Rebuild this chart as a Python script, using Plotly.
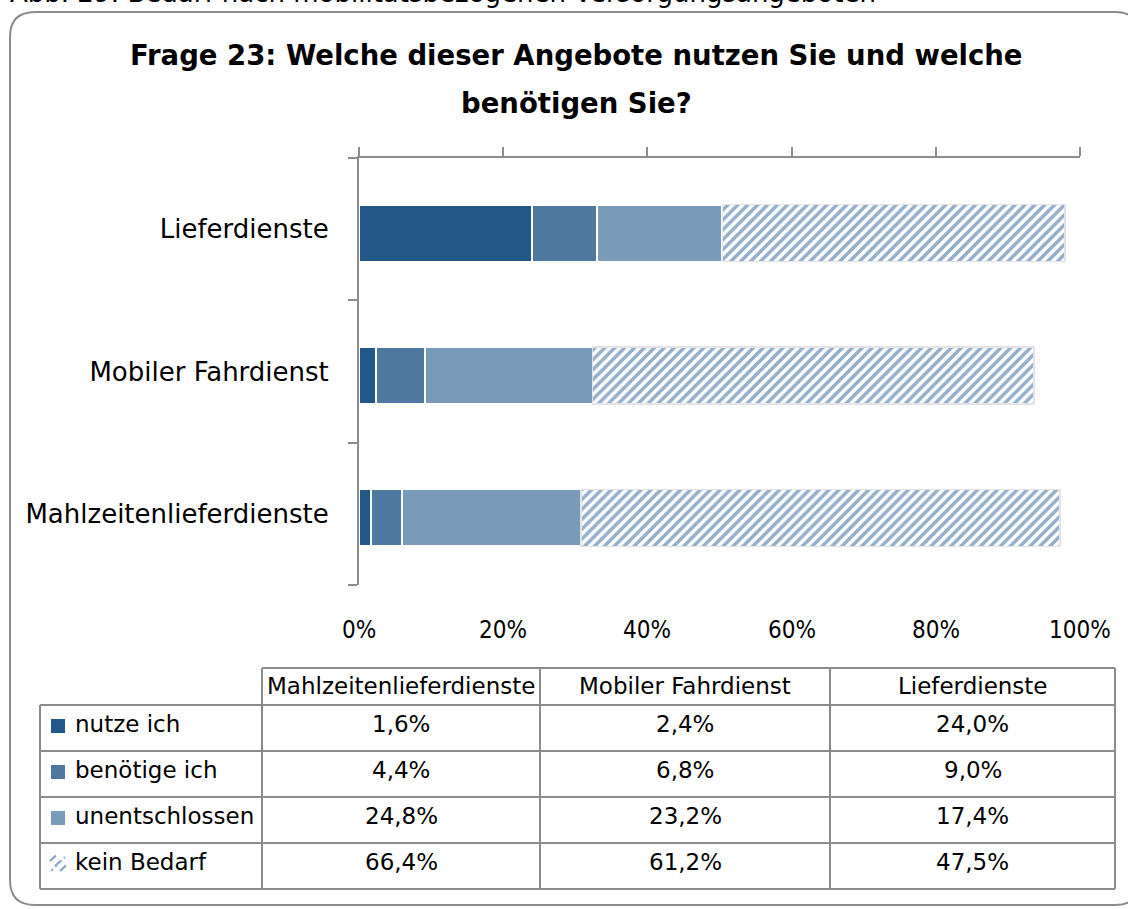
import plotly.graph_objects as go

# ---------------- data ----------------
caption = "Abb. 29: Bedarf nach mobilitätsbezogenen Versorgungsangeboten"
title_lines = ["Frage 23: Welche dieser Angebote nutzen Sie und welche", "benötigen Sie?"]
categories = ["Mahlzeitenlieferdienste", "Mobiler Fahrdienst", "Lieferdienste"]
series_names = ["nutze ich", "benötige ich", "unentschlossen", "kein Bedarf"]
nutze_ich = [1.6, 2.4, 24.0]
benoetige_ich = [4.4, 6.8, 9.0]
unentschlossen = [24.8, 23.2, 17.4]
kein_bedarf = [66.4, 61.2, 47.5]
x_ticks = [0, 20, 40, 60, 80, 100]

series_values = [nutze_ich, benoetige_ich, unentschlossen, kein_bedarf]
series_colors = ["#23578a", "#4e78a0", "#789bba", "#2a5d98"]

# ---------------- helpers ----------------
W, H = 1128, 909
FONT = "DejaVu Sans, Verdana, sans-serif"
COND = "DejaVu Sans Condensed, Liberation Sans Narrow, sans-serif"
GRAY = "#8c8c8c"


def px(x):
    return x / W


def py(y):
    return 1 - y / H


def fmt(v):
    return f"{v:.1f}".replace(".", ",") + "%"


ypos = list(range(len(categories)))
BAR_W = 0.4

fig = go.Figure()
for i, (name, vals, col) in enumerate(zip(series_names, series_values, series_colors)):
    if i == len(series_names) - 1:
        marker = dict(color="white",
                      pattern=dict(shape="/", fgcolor=col, bgcolor="white", size=7, solidity=0.5),
                      line=dict(color="#e4e4e4", width=1.5))
    else:
        marker = dict(color=col, line=dict(color="white", width=2))
    fig.add_trace(go.Bar(x=vals, y=ypos, orientation="h", name=name, width=BAR_W,
                         offset=-BAR_W / 2 - 0.028,
                         marker=marker, hoverinfo="x+name"))

shapes = []
annotations = []

# frame with rounded corners
r = 25
L, T, R, B = 10, 12, 1140, 905


def P(x, y):
    return f"{px(x)},{py(y)}"


path = (f"M {P(L, T + r)} Q {P(L, T)} {P(L + r, T)} L {P(R - r, T)} Q {P(R, T)} {P(R, T + r)} "
        f"L {P(R, B - r)} Q {P(R, B)} {P(R - r, B)} L {P(L + r, B)} Q {P(L, B)} {P(L, B - r)} Z")
shapes.append(dict(type="path", xref="paper", yref="paper", path=path,
                   line=dict(color=GRAY, width=2), fillcolor="rgba(0,0,0,0)", layer="below"))

# caption (cut at top, as in the source)
annotations.append(dict(text=caption, x=px(8), y=py(10), xref="paper", yref="paper",
                        xanchor="left", yanchor="bottom", showarrow=False,
                        font=dict(family=FONT, size=26, color="black")))

# title
for txt, yy in zip(title_lines, [55, 103]):
    annotations.append(dict(text=f"<b>{txt}</b>", x=px(577), y=py(yy), xref="paper", yref="paper",
                            xanchor="center", yanchor="middle", showarrow=False,
                            font=dict(family=FONT, size=27.5, color="black")))

# bottom tick labels
for v in x_ticks:
    annotations.append(dict(text=f"{v}%", x=v, xref="x", y=py(630), yref="paper",
                            xanchor="center", yanchor="middle", showarrow=False,
                            font=dict(family=COND, size=24, color="black")))

# ---------------- data table ----------------
col_edges = [40, 262, 540, 830, 1115]
row_edges = [668, 705, 751, 797, 843, 889]
line = dict(color=GRAY, width=2)
shapes.append(dict(type="line", xref="paper", yref="paper", x0=px(col_edges[1]), x1=px(col_edges[-1]),
                   y0=py(row_edges[0]), y1=py(row_edges[0]), line=line))
for ry in row_edges[1:]:
    shapes.append(dict(type="line", xref="paper", yref="paper", x0=px(col_edges[0]), x1=px(col_edges[-1]),
                       y0=py(ry), y1=py(ry), line=line))
shapes.append(dict(type="line", xref="paper", yref="paper", x0=px(col_edges[0]), x1=px(col_edges[0]),
                   y0=py(row_edges[1]), y1=py(row_edges[-1]), line=line))
for cx in col_edges[1:]:
    shapes.append(dict(type="line", xref="paper", yref="paper", x0=px(cx), x1=px(cx),
                       y0=py(row_edges[0]), y1=py(row_edges[-1]), line=line))

TFS = 23
for j, cat in enumerate(categories):
    cx = (col_edges[j + 1] + col_edges[j + 2]) / 2
    cy = (row_edges[0] + row_edges[1]) / 2 - 1
    annotations.append(dict(text=cat, x=px(cx), y=py(cy), xref="paper", yref="paper",
                            xanchor="center", yanchor="middle", showarrow=False,
                            font=dict(family=FONT, size=TFS, color="black")))
for i, (name, vals, col) in enumerate(zip(series_names, series_values, series_colors)):
    cy = (row_edges[i + 1] + row_edges[i + 2]) / 2 - 4
    annotations.append(dict(text=name, x=px(73), y=py(cy), xref="paper", yref="paper",
                            xanchor="left", yanchor="middle", showarrow=False,
                            font=dict(family=FONT, size=TFS, color="black")))
    ix0, ix1 = 51, 65
    iy0, iy1 = cy - 5, cy + 9
    if i < len(series_names) - 1:
        shapes.append(dict(type="rect", xref="paper", yref="paper", x0=px(ix0), x1=px(ix1),
                           y0=py(iy0), y1=py(iy1), fillcolor=col, line=dict(width=0)))
    else:
        for k in range(3):
            off = k * 5
            shapes.append(dict(type="line", xref="paper", yref="paper",
                               x0=px(ix0 + off - 1), y0=py(iy0 + 4 + off),
                               x1=px(ix0 + off + 5), y1=py(iy0 - 2 + off + 0.5),
                               line=dict(color="#7fa0c4", width=2)))
        shapes.append(dict(type="line", xref="paper", yref="paper",
                           x0=px(ix0), y0=py(iy1), x1=px(ix1), y1=py(iy0),
                           line=dict(color="#9ab3d0", width=2, dash="dot")))
    for j, v in enumerate(vals):
        cx = (col_edges[j + 1] + col_edges[j + 2]) / 2
        annotations.append(dict(text=fmt(v), x=px(cx), y=py(cy), xref="paper", yref="paper",
                                xanchor="center", yanchor="middle", showarrow=False,
                                font=dict(family=FONT, size=TFS, color="black")))

fig.update_layout(
    width=W, height=H,
    margin=dict(l=0, r=0, t=0, b=0),
    paper_bgcolor="white", plot_bgcolor="white",
    barmode="stack", showlegend=False,
    xaxis=dict(domain=[px(359), px(1080)], range=[0, 100], side="top",
               tickvals=x_ticks, showticklabels=False, ticks="outside", ticklen=9,
               tickwidth=2, tickcolor=GRAY, showline=True, linecolor=GRAY, linewidth=2,
               showgrid=False, zeroline=False, fixedrange=True),
    yaxis=dict(domain=[py(585), py(158)], range=[-0.5, len(categories) - 0.5],
               tickvals=ypos, ticktext=categories, ticks="", ticklabelstandoff=23,
               tickfont=dict(family=FONT, size=26, color="black"),
               minor=dict(tickvals=[p - 0.5 for p in ypos] + [len(categories) - 0.5],
                          ticks="outside", ticklen=9, tickwidth=2, tickcolor=GRAY),
               showline=True, linecolor=GRAY, linewidth=2,
               showgrid=False, zeroline=False, fixedrange=True),
    shapes=shapes, annotations=annotations,
)

fig.write_html("out.html", config={"displayModeBar": False},
               post_script="document.body.style.margin='0';document.body.style.overflow='hidden';")
